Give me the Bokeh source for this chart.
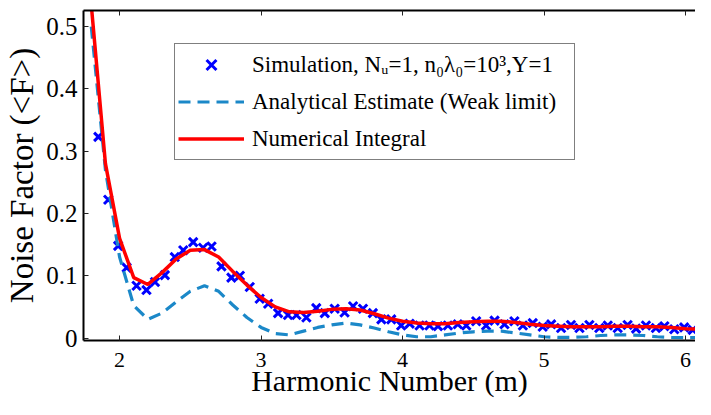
from bokeh.plotting import figure
from bokeh.models import LinearAxis, FixedTicker, Legend, LegendItem, Range1d
from bokeh.embed import file_html
from bokeh.resources import INLINE

# ---- data ----
sim_m = [1.85, 1.92, 1.99, 2.05, 2.12, 2.19, 2.25, 2.32, 2.39, 2.45, 2.52, 2.59, 2.65,
         2.72, 2.79, 2.85, 2.92, 2.99, 3.05, 3.12, 3.19, 3.25, 3.32, 3.39, 3.45, 3.52,
         3.59, 3.65, 3.72, 3.79, 3.85, 3.92, 3.99, 4.05, 4.12, 4.19, 4.25, 4.32, 4.39,
         4.45, 4.52, 4.59, 4.65, 4.72, 4.79, 4.85, 4.92, 4.99, 5.05, 5.12, 5.19, 5.25,
         5.32, 5.39, 5.45, 5.52, 5.59, 5.65, 5.72, 5.79, 5.85, 5.92, 5.99, 6.05]
sim_F = [0.323, 0.222, 0.148, 0.113, 0.084, 0.077, 0.090, 0.101, 0.130, 0.141, 0.154, 0.145, 0.147,
         0.115, 0.097, 0.100, 0.082, 0.063, 0.055, 0.040, 0.037, 0.037, 0.033, 0.048, 0.040, 0.047,
         0.041, 0.051, 0.047, 0.040, 0.030, 0.030, 0.020, 0.023, 0.020, 0.020, 0.019, 0.020, 0.022,
         0.020, 0.027, 0.020, 0.028, 0.022, 0.027, 0.020, 0.024, 0.018, 0.022, 0.016, 0.021, 0.016,
         0.021, 0.016, 0.020, 0.016, 0.021, 0.015, 0.020, 0.016, 0.019, 0.014, 0.017, 0.013]

curve_m = [1.8, 1.9, 2.0, 2.1, 2.2, 2.3, 2.4, 2.5, 2.6, 2.7, 2.8, 2.9, 3.0, 3.1, 3.2, 3.3,
           3.4, 3.5, 3.6, 3.7, 3.8, 3.9, 4.0, 4.1, 4.2, 4.3, 4.4, 4.5, 4.6, 4.7, 4.8, 4.9,
           5.0, 5.1, 5.2, 5.3, 5.4, 5.5, 5.6, 5.7, 5.8, 5.9, 6.0, 6.1]
analytic_F = [0.50, 0.27, 0.13, 0.052, 0.030, 0.040, 0.058, 0.075, 0.084, 0.075, 0.053, 0.033,
              0.017, 0.007, 0.005, 0.011, 0.017, 0.021, 0.024, 0.021, 0.016, 0.010, 0.005, 0.002,
              0.002, 0.005, 0.008, 0.010, 0.011, 0.011, 0.008, 0.005, 0.002, 0.001, 0.001, 0.002,
              0.004, 0.005, 0.005, 0.004, 0.002, 0.001, 0.0005, 0.001]
numeric_F = [0.535, 0.28, 0.160, 0.097, 0.086, 0.105, 0.127, 0.141, 0.142, 0.130, 0.107, 0.085,
             0.065, 0.050, 0.042, 0.041, 0.043, 0.046, 0.047, 0.045, 0.039, 0.032, 0.027, 0.024,
             0.023, 0.023, 0.025, 0.026, 0.027, 0.027, 0.025, 0.022, 0.020, 0.019, 0.018, 0.018,
             0.018, 0.019, 0.019, 0.018, 0.018, 0.017, 0.015, 0.014]

x_ticks = [2, 3, 4, 5, 6]
y_ticks = [0, 0.1, 0.2, 0.3, 0.4, 0.5]
y_tick_labels = {0: "0", 0.1: "0.1", 0.2: "0.2", 0.3: "0.3", 0.4: "0.4", 0.5: "0.5"}
top_tick_labels = {2: "", 3: "", 4: "", 5: "", 6: ""}

label_sim = "Simulation, N\u1d64=1, n\u2080\u03bb\u2080=10\u00b3,Y=1"
label_ana = "Analytical Estimate (Weak limit)"
label_num = "Numerical Integral"

FONT = "Liberation Serif"

p = figure(width=695, height=399, output_backend="svg", toolbar_location=None,
           x_range=Range1d(1.745, 6.07), y_range=Range1d(-0.004, 0.526),
           x_axis_location=None, y_axis_location=None)
p.outline_line_color = None
p.xgrid.visible = False
p.ygrid.visible = False
p.min_border_left = 83
p.min_border_right = 0
p.min_border_top = 10
p.min_border_bottom = 0
p.background_fill_color = "white"
p.border_fill_color = "white"

xa = LinearAxis(ticker=FixedTicker(ticks=x_ticks))
ya = LinearAxis(ticker=FixedTicker(ticks=y_ticks))
top_axis = LinearAxis(ticker=FixedTicker(ticks=x_ticks))
p.add_layout(xa, "below")
p.add_layout(ya, "left")
p.add_layout(top_axis, "above")
ya.major_label_overrides = y_tick_labels
top_axis.major_label_overrides = top_tick_labels

for ax in [xa, ya, top_axis]:
    ax.axis_line_width = 2
    ax.axis_line_color = "black"
    ax.major_tick_in = 5
    ax.major_tick_out = 0
    ax.minor_tick_in = 0
    ax.minor_tick_out = 0
    ax.major_tick_line_color = "#222222"
    ax.major_tick_line_width = 1
    ax.major_label_text_font = FONT
    ax.major_label_text_color = "black"
    ax.axis_label_text_font = FONT
    ax.axis_label_text_font_style = "normal"
    ax.axis_label_text_color = "black"

top_axis.major_label_text_font_size = "1px"
top_axis.major_label_standoff = 0

xa.major_label_text_font_size = "22px"
xa.major_label_text_line_height = 1.0
xa.major_label_standoff = 12
xa.axis_label = "Harmonic Number (m)"
xa.axis_label_text_font_size = "30px"
xa.axis_label_text_line_height = 0.9
xa.axis_label_standoff = -6

ya.major_label_text_font_size = "25px"
ya.major_label_standoff = 6
ya.axis_label = "Noise Factor (<F>)"
ya.axis_label_text_font_size = "33px"
ya.axis_label_text_line_height = 0.9
ya.axis_label_standoff = 3

r_sim = p.scatter(sim_m, sim_F, marker="x", size=12, line_color="#0000ff", line_width=3)
r_ana = p.line(curve_m, analytic_F, line_color="#1b88c8", line_width=3.2, line_dash="12 7")
r_num = p.line(curve_m, numeric_F, line_color="#ff0000", line_width=3.5)

legend = Legend(items=[LegendItem(label=label_sim, renderers=[r_sim]),
                       LegendItem(label=label_ana, renderers=[r_ana]),
                       LegendItem(label=label_num, renderers=[r_num])],
                location=(91, 180))
legend.label_text_font = FONT
legend.label_text_font_size = "23px"
legend.label_text_color = "black"
legend.border_line_color = "black"
legend.border_line_width = 1.3
legend.background_fill_color = "white"
legend.background_fill_alpha = 1
legend.padding = 3
legend.spacing = 2
legend.margin = 0
legend.label_height = 35
legend.glyph_height = 35
legend.glyph_width = 66
legend.label_standoff = 8
legend.label_width = 319
p.add_layout(legend, "center")

open("out.html", "w").write(file_html(p, INLINE))
